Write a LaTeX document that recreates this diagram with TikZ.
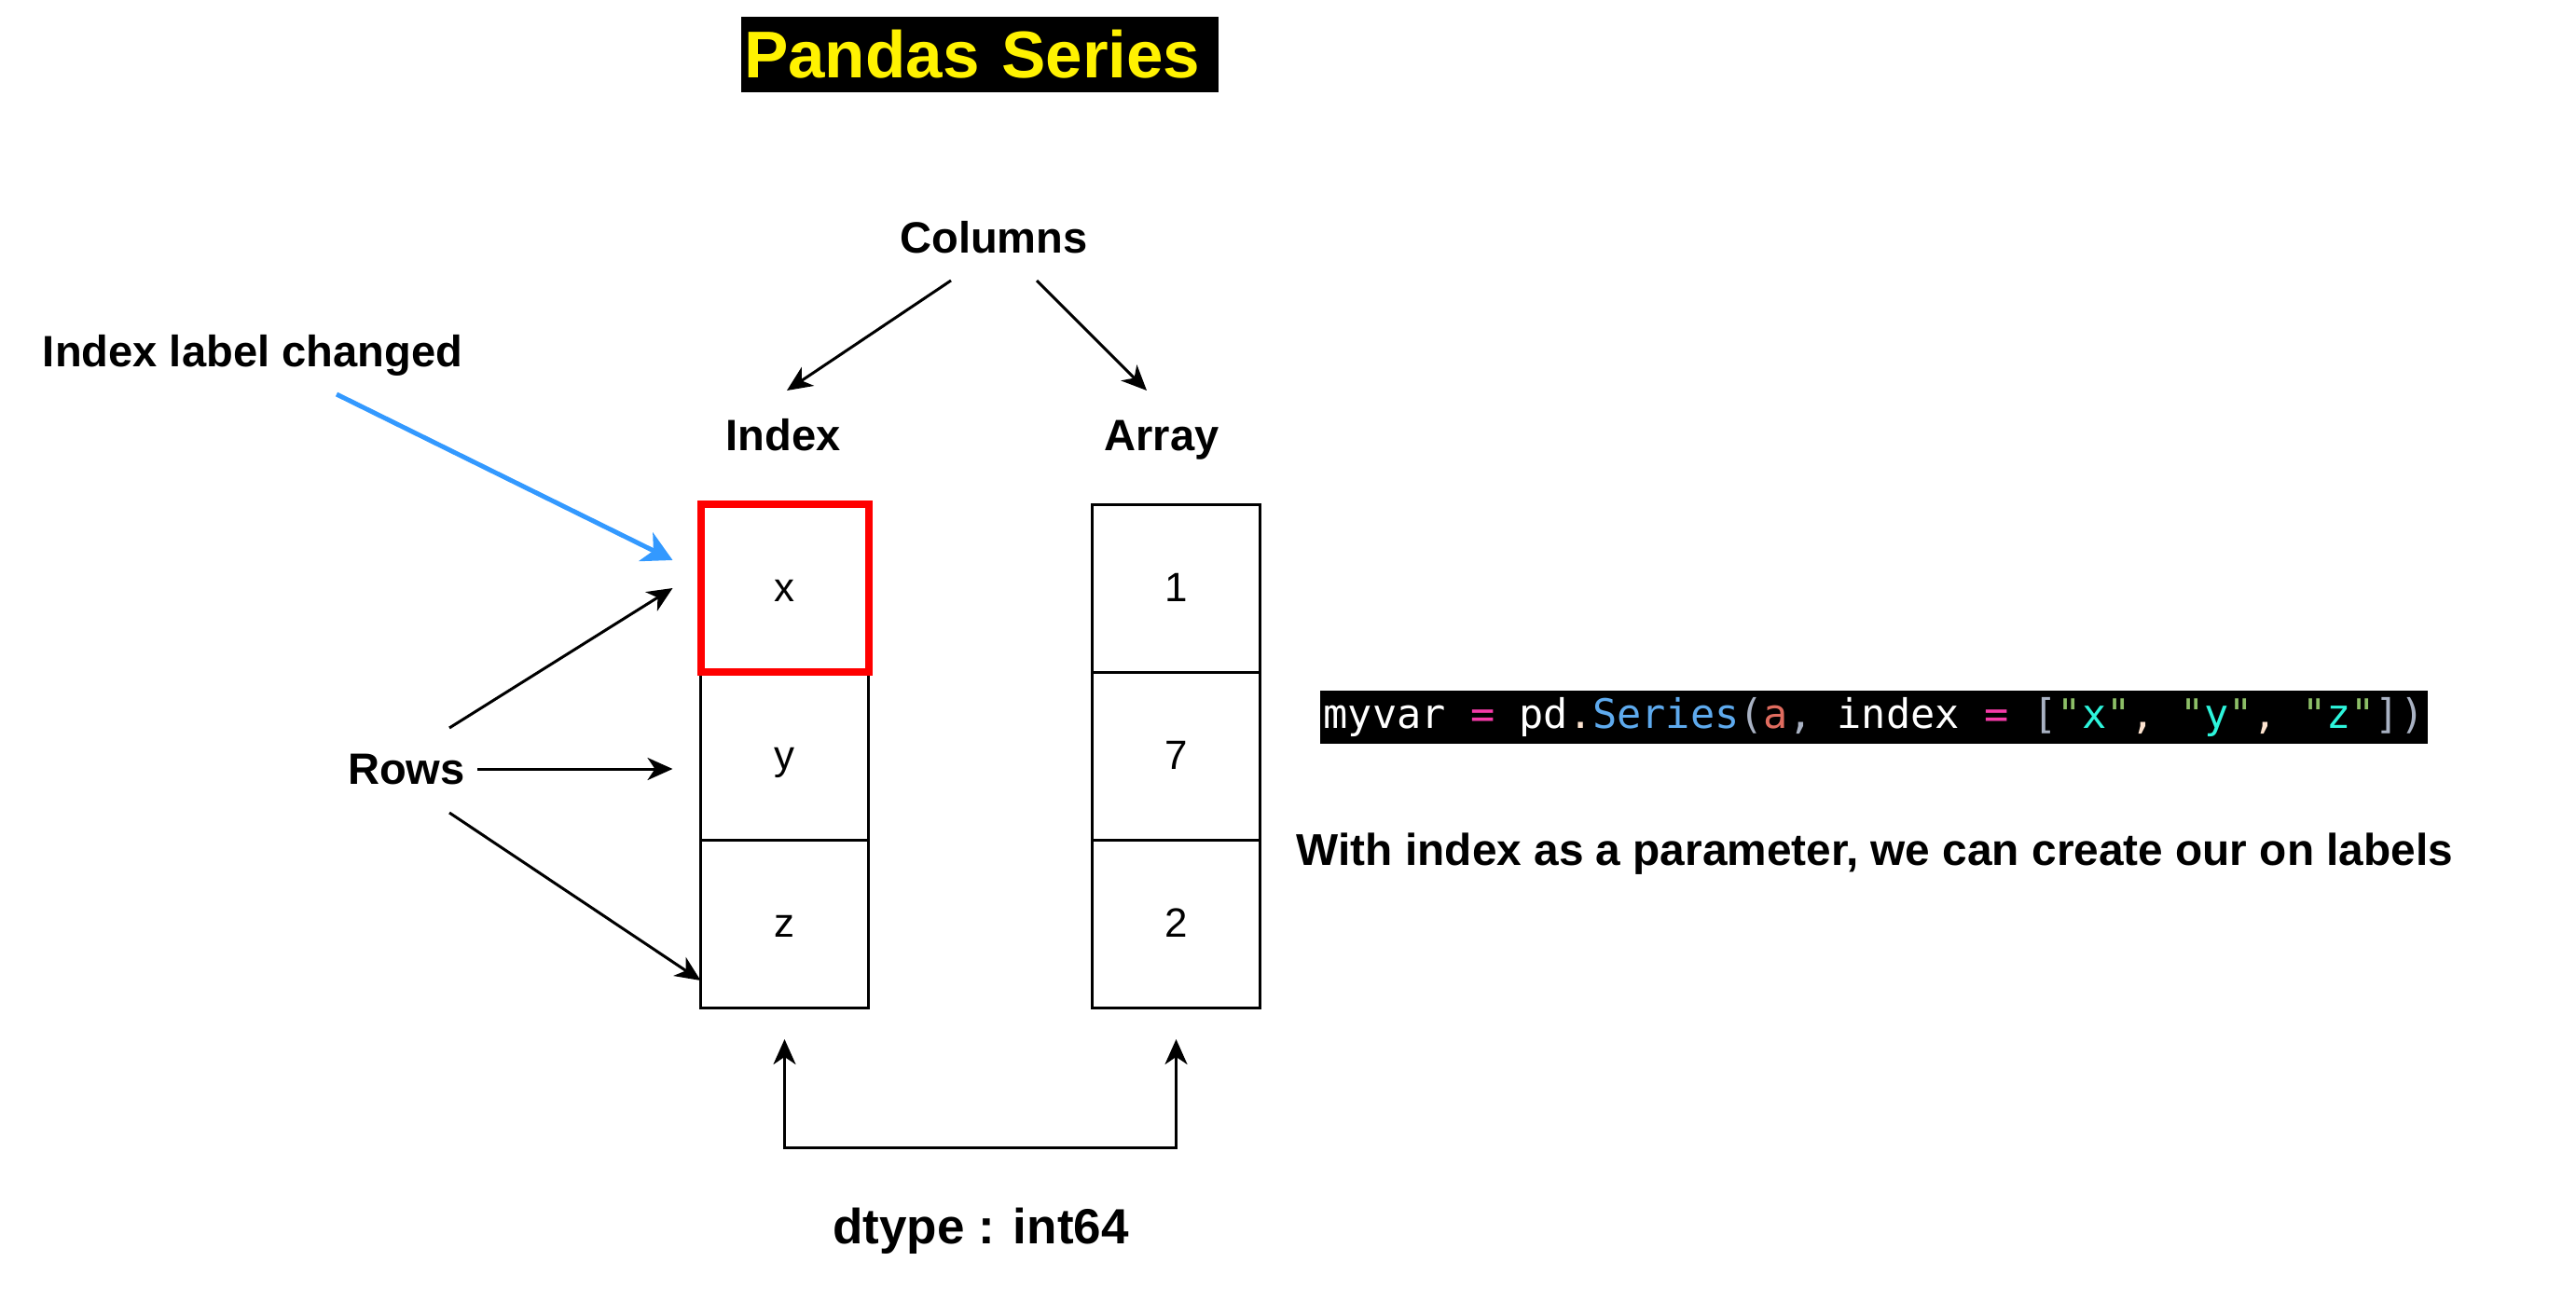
\documentclass[tikz,border=0pt]{standalone}
\usepackage{fontspec}
\setmainfont{Liberation Sans}
\setmonofont{DejaVu Sans Mono}
\usetikzlibrary{arrows.meta,positioning}
\definecolor{hintblue}{HTML}{3399FF}
\definecolor{codepink}{HTML}{F53BA8}
\definecolor{codeblue}{HTML}{5EAAEE}
\definecolor{codegray}{HTML}{A9B2C3}
\definecolor{codered}{HTML}{E06C5F}
\definecolor{codegreen}{HTML}{8DBF67}
\definecolor{codecyan}{HTML}{2DF5DC}
\definecolor{codebeige}{HTML}{FDE3CF}
\newcommand\qstr[1]{\textcolor{codegreen}{"}\textcolor{codecyan}{#1}\textcolor{codegreen}{"}}
\begin{document}
\begin{tikzpicture}[
  lbl/.style={font=\fontsize{13.4}{16}\selectfont\bfseries, inner sep=0pt,
    text height=0.34cm, text depth=0.10cm},
  cell/.style={draw, line width=0.03cm, minimum width=1.80cm, minimum height=1.80cm,
    font=\fontsize{12.5}{15}\selectfont, inner sep=0pt, outer sep=0pt,
    text height=0.32cm, text depth=0.04cm},
  arr/.style={-{Stealth[length=0.27cm,width=0.24cm,inset=0.08cm]}, line width=0.03cm},
  arrboth/.style={{Stealth[length=0.27cm,width=0.24cm,inset=0.08cm]}-{Stealth[length=0.27cm,width=0.24cm,inset=0.08cm]}, line width=0.03cm},
  bluearr/.style={-{Stealth[length=0.32cm,width=0.34cm,inset=0.09cm]}, line width=0.05cm, hintblue},
]
\useasboundingbox (0,0) rectangle (27.63,-13.83);

\node[fill=black, text=yellow, font=\fontsize{20.2}{24}\selectfont\bfseries,
  minimum height=0.81cm, text width=5.06cm, inner xsep=0.03cm, inner ysep=0pt, align=left]
  (title) at (10.51,-0.585) {Pandas Series};

\node[lbl] (cols) at (10.66,-2.59) {Columns};
\node[lbl] (idx) at (8.40,-4.71) {Index};
\node[lbl] (arrlbl) at (12.46,-4.71) {Array};
\node[lbl] (chg) at (2.71,-3.81) {Index label changed};
\node[lbl] (rows) at (4.36,-8.29) {Rows};
\node[lbl, font=\fontsize{15.1}{18}\selectfont\bfseries] (dtype) at (10.52,-13.22) {dtype : int64};
\node[lbl, font=\fontsize{13.6}{16}\selectfont\bfseries] (note) at (20.11,-9.16) {With index as a parameter, we can create our on labels};

\node[cell] (cx) at (8.415,-6.31) {x};
\node[cell, below=0pt of cx] (cy) {y};
\node[cell, below=0pt of cy] (cz) {z};
\node[cell] (c1) at (12.615,-6.31) {1};
\node[cell, below=0pt of c1] (c7) {7};
\node[cell, below=0pt of c7] (c2) {2};
\draw[red, line width=0.08cm] (cx.south west) rectangle (cx.north east);

\node[fill=black, text=white, font=\ttfamily\fontsize{12.4}{14}\selectfont,
  minimum width=11.88cm, minimum height=0.57cm, inner xsep=0.03cm, inner ysep=0pt]
  (code) at (20.10,-7.695) {myvar \textcolor{codepink}{=} pd\textcolor{codebeige}{.}\textcolor{codeblue}{Series}\textcolor{codegray}{(}\textcolor{codered}{a}\textcolor{codegray}{,} index \textcolor{codepink}{=} \textcolor{codegray}{[}\qstr{x}\textcolor{codebeige}{,} \qstr{y}\textcolor{codebeige}{,} \qstr{z}\textcolor{codegray}{])}};

\draw[arr] ([xshift=-0.46cm,yshift=-0.42cm]cols.center) -- ([xshift=0.04cm,yshift=0.52cm]idx.center);
\draw[arr] ([xshift=0.46cm,yshift=-0.42cm]cols.center) -- ([xshift=-0.16cm,yshift=0.52cm]arrlbl.center);

\draw[bluearr] ([xshift=0.90cm,yshift=-0.42cm]chg.center) -- ([xshift=-0.30cm,yshift=-0.60cm]cx.north west);

\coordinate (ry) at ([xshift=-0.30cm]cy.west);
\coordinate (rmid) at ([xshift=0.76cm,yshift=0.04cm]rows.center);
\draw[arr] ([xshift=0.46cm,yshift=0.48cm]rows.center) -- ([xshift=-0.30cm]cx.west);
\draw[arr] (rmid) -- (ry |- rmid);
\draw[arr] ([xshift=0.46cm,yshift=-0.43cm]rows.center) -- ([yshift=-0.61cm]cz.west);

\draw[arrboth] ([yshift=-0.34cm]cz.south) -- ++(0,-1.16) -| ([yshift=-0.34cm]c2.south);
\end{tikzpicture}
\end{document}
